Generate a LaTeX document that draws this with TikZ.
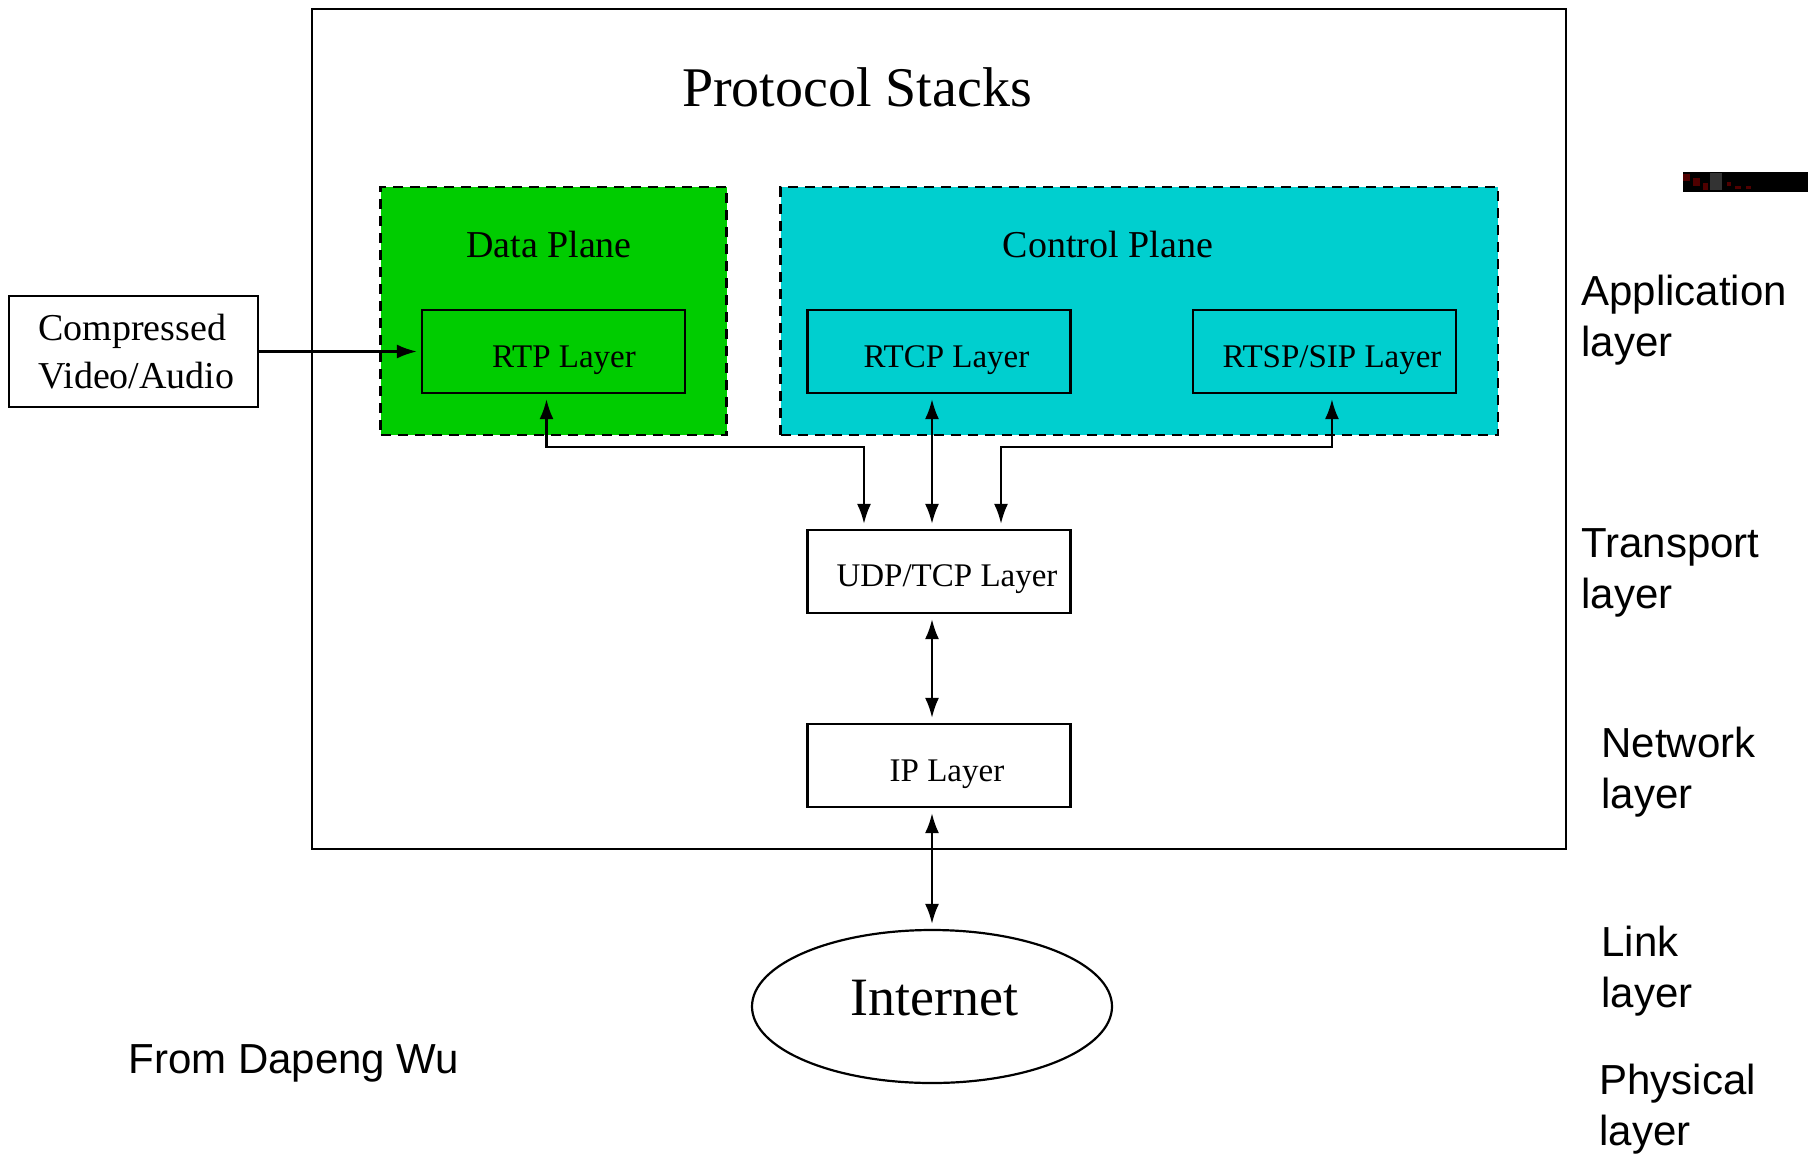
\documentclass[tikz,border=0pt]{standalone}
\usepackage{fontspec}
\setmainfont{Liberation Serif}
\newfontfamily\labelsans{Liberation Sans}
\usetikzlibrary{arrows.meta,shapes.geometric,calc}
\definecolor{planegreen}{RGB}{0,204,0}
\definecolor{planecyan}{RGB}{0,207,207}
\definecolor{speckred}{RGB}{80,0,0}
\tikzset{
  framebox/.style={draw=black, line width=1.1pt, inner sep=0pt},
  layerbox/.style={framebox, minimum width=131.5pt, minimum height=41.5pt},
  planebox/.style={draw=black, line width=1.3pt, dash pattern=on 5pt off 3.5pt,
    inner sep=0pt, minimum height=124pt},
  titletext/.style={font=\fontsize{28}{32}\selectfont, anchor=base, inner sep=0pt},
  planetext/.style={font=\fontsize{19}{22}\selectfont, anchor=base, inner sep=0pt},
  boxtext/.style={font=\fontsize{16.5}{19}\selectfont, anchor=base, inner sep=0pt},
  sidelabel/.style={font=\labelsans\fontsize{21}{25.5}\selectfont, anchor=base west,
    inner sep=0pt},
  biarrow/.style={line width=1.2pt,
    {Latex[length=10pt,width=7pt]}-{Latex[length=10pt,width=7pt]},
    shorten <=2.5pt, shorten >=2.5pt},
  onearrow/.style={line width=1.2pt, -{Latex[length=10pt,width=7pt]}, shorten >=2pt}
}
\begin{document}
\begin{tikzpicture}[x=0.5pt,y=-0.5pt]
  \useasboundingbox (0,0) rectangle (1808,1156);

  % outer frame of the protocol stack
  \node[framebox, minimum width=627pt, minimum height=420pt] (stack) at (939,429) {};
  \node[titletext] (title) at (857,106) {Protocol Stacks};

  % data and control planes
  \node[planebox, fill=planegreen, minimum width=173pt] (dplane) at (553.5,311) {};
  \node[planebox, fill=planecyan, minimum width=358.75pt] (cplane) at (1139.25,311) {};
  \node[planetext] (dplane-t) at (549,257) {Data Plane};
  \node[planetext] (cplane-t) at (1108,257) {Control Plane};

  % application-level protocol boxes
  \node[layerbox] (rtp) at (553.5,351.5) {};
  \node[layerbox] (rtcp) at (939,351.5) {};
  \node[layerbox] (rtsp) at (1324.75,351.5) {};
  \node[boxtext] (rtp-t) at (564,367) {RTP Layer};
  \node[boxtext] (rtcp-t) at (946.5,367) {RTCP Layer};
  \node[boxtext] (rtsp-t) at (1332,367) {RTSP/SIP Layer};

  % transport and network boxes
  \node[layerbox] (udp) at (939,571.5) {};
  \node[layerbox] (ip) at (939,765.5) {};
  \node[boxtext] (udp-t) at (947,586) {UDP/TCP Layer};
  \node[boxtext] (ip-t) at (947,781) {IP Layer};

  % media source
  \node[framebox, minimum width=124.5pt, minimum height=55.5pt] (src) at (133.5,351.5) {};
  \node[anchor=base west, inner sep=0pt, font=\fontsize{19}{24}\selectfont] (src-t) at (38,340)
    {\vtop{\hbox{Compressed}\hbox{Video/Audio}}};

  % the network cloud
  \node[draw=black, line width=1.1pt, ellipse, inner sep=0pt,
        minimum width=180pt, minimum height=76.5pt] (inet) at (932,1006.5) {};
  \node[titletext, font=\fontsize{27}{31}\selectfont] (inet-t) at (934.5,1015) {Internet};

  % connectors
  \coordinate (bus) at (0,447);
  \coordinate (rtpfoot) at ([xshift=-3.5pt]rtp.south);
  \coordinate (rtspfoot) at ([xshift=3.6pt]rtsp.south);
  \coordinate (udpL) at ([xshift=-37.5pt]udp.north);
  \coordinate (udpR) at ([xshift=31pt]udp.north);

  \draw[onearrow] (src.east) -- (rtp.west);
  \draw[biarrow] (rtpfoot) |- (bus -| udpL) -- (udpL);
  \draw[biarrow] (rtcp.south -| inet.north) -- (udp.north -| inet.north);
  \draw[biarrow] (rtspfoot) |- (bus -| udpR) -- (udpR);
  \draw[biarrow] (udp.south -| inet.north) -- (ip.north -| inet.north);
  \draw[biarrow] (ip.south -| inet.north) -- (inet.north);

  % layer names on the right
  \node[sidelabel] (l-app) at (1581,305) {\vtop{\hbox{Application}\hbox{layer}}};
  \node[sidelabel] (l-trans) at (1581,557) {\vtop{\hbox{Transport}\hbox{layer}}};
  \node[sidelabel] (l-net) at (1601,757) {\vtop{\hbox{Network}\hbox{layer}}};
  \node[sidelabel] (l-link) at (1601,956) {\vtop{\hbox{Link}\hbox{layer}}};
  \node[sidelabel] (l-phys) at (1599,1094) {\vtop{\hbox{Physical}\hbox{layer}}};
  \node[sidelabel] (credit) at (128,1073.5) {From Dapeng Wu};

  % dark bar at the top right edge
  \fill[black] (1683,172) rectangle (1808,192);
  \fill[speckred] (1683,174) rectangle (1690,181);
  \fill[speckred] (1693,178) rectangle (1700,186);
  \fill[speckred] (1703,183) rectangle (1708,190);
  \fill[speckred] (1712,176) rectangle (1716,181);
  \fill[black!80] (1710,173) rectangle (1722,190);
  \fill[speckred] (1727,182) rectangle (1731,186);
  \fill[speckred] (1735,186) rectangle (1741,189);
  \fill[speckred] (1746,186) rectangle (1751,189);
\end{tikzpicture}
\end{document}
